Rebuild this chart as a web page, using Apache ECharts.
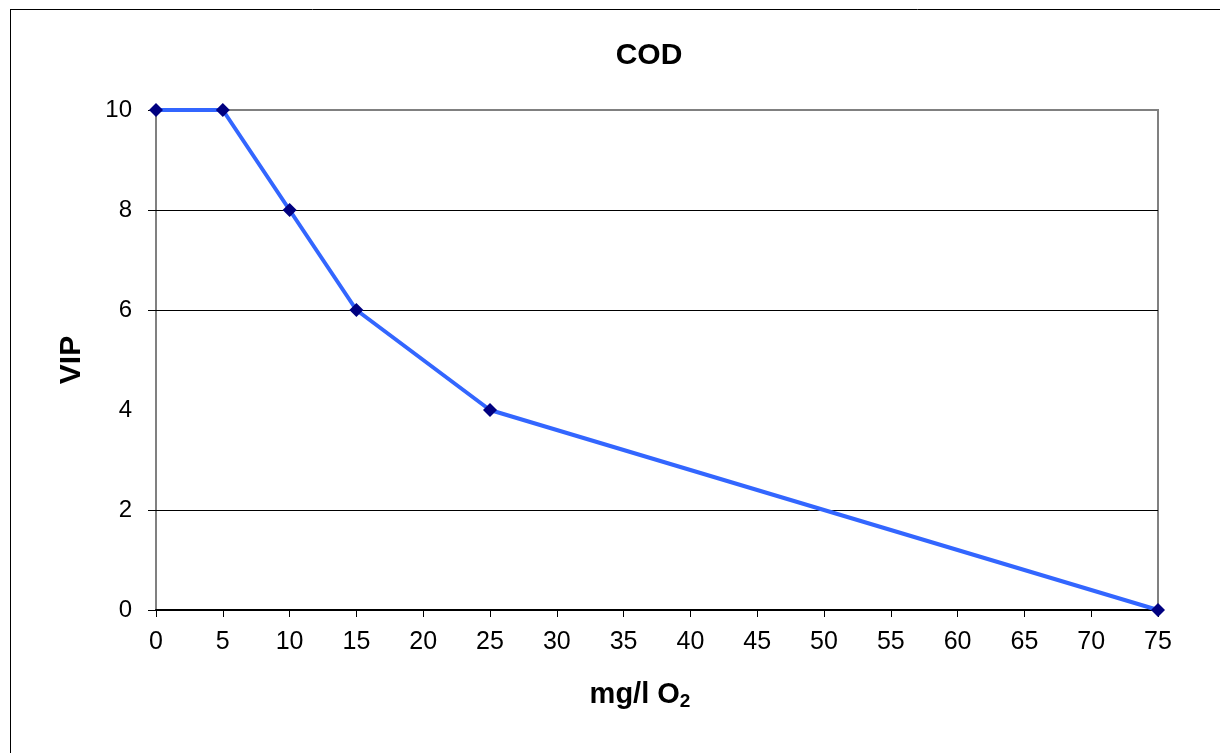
<!DOCTYPE html>
<html>
<head>
<meta charset="utf-8">
<script src="https://cdn.jsdelivr.net/npm/echarts@6/dist/echarts.min.js"></script>
<style>html,body{margin:0;padding:0;background:#fff}#c{width:1220px;height:753px}</style>
</head>
<body>
<div id="c"></div>
<script>
const xValues = [0, 5, 10, 15, 25, 75];
const vipValues = [10, 10, 8, 6, 4, 0];
const gridValues = [2, 6, 8];
const yTickValues = [0, 2, 6, 8, 10];
const titleText = 'COD';
const yName = 'VIP';

const chart = echarts.init(document.getElementById('c'));
const font = 'Liberation Sans, Arial, sans-serif';
chart.setOption({
  backgroundColor: '#fff',
  animation: false,
  title: {
    text: titleText, left: 644, top: 36, textAlign: 'center',
    textStyle: {fontFamily: font, fontWeight: 'bold', fontSize: 30, color: '#000'}
  },
  grid: {left: 156, right: 62, top: 110, bottom: 143, show: true, borderColor: '#808080', borderWidth: 2, backgroundColor: '#fff'},
  xAxis: {
    type: 'value', min: 0, max: 75, interval: 5,
    name: '{a|mg/l O}{s|2}', nameLocation: 'middle', nameGap: 68,
    nameTextStyle: {padding: [0, 34, 0, 0], rich: {
      a: {fontFamily: font, fontWeight: 'bold', fontSize: 29, color: '#000'},
      s: {fontFamily: font, fontWeight: 'bold', fontSize: 19, color: '#000', verticalAlign: 'bottom', padding: [14, 0, 0, 0]}
    }},
    axisLine: {show: true, lineStyle: {color: '#000', width: 2}},
    axisTick: {show: true, inside: false, length: 7, lineStyle: {color: '#000', width: 1}},
    axisLabel: {fontFamily: font, fontSize: 25, color: '#000', margin: 20},
    splitLine: {show: false}
  },
  yAxis: {
    type: 'value', min: 0, max: 10, interval: 2,
    name: yName, nameLocation: 'middle', nameGap: 69, nameRotate: 90,
    nameTextStyle: {fontFamily: font, fontWeight: 'bold', fontSize: 30, color: '#000'},
    axisLine: {show: true, lineStyle: {color: '#808080', width: 1}},
    axisTick: {show: true, length: 8, customValues: yTickValues, lineStyle: {color: '#000', width: 1}},
    axisLabel: {fontFamily: font, fontSize: 24, color: '#000', margin: 24},
    splitLine: {show: false}
  },
  graphic: [
    {type: 'line', shape: {x1: 10, y1: 9.5, x2: 1220, y2: 9.5}, style: {stroke: '#000', lineWidth: 1}},
    {type: 'line', shape: {x1: 10.5, y1: 9, x2: 10.5, y2: 753}, style: {stroke: '#000', lineWidth: 1}}
  ],
  series: [{
    type: 'line',
    data: xValues.map((x, i) => [x, vipValues[i]]),
    lineStyle: {color: '#3366FF', width: 4},
    symbol: 'diamond', symbolSize: 14,
    itemStyle: {color: '#000080'},
    z: 5,
    markLine: {
      silent: true, symbol: 'none', label: {show: false},
      lineStyle: {color: '#000', width: 1, type: 'solid'},
      data: gridValues.map(v => ({yAxis: v}))
    }
  }]
});
</script>
</body>
</html>
